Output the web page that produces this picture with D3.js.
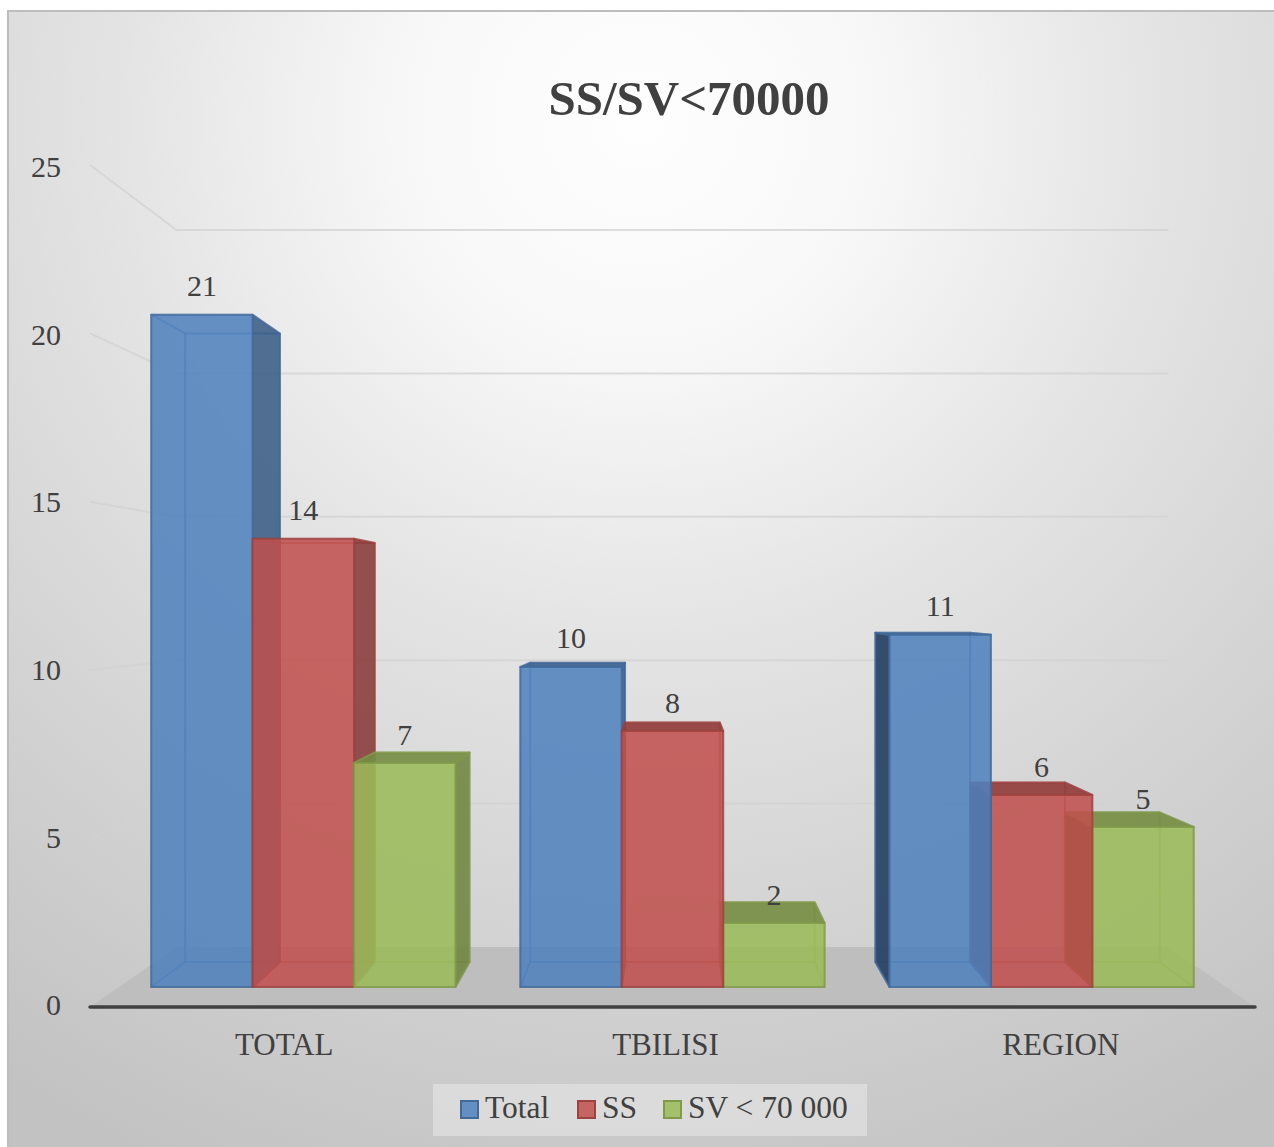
<!DOCTYPE html>
<html>
<head>
<meta charset="utf-8">
<style>
    body { margin: 0; background: #fff; }
    text { font-family: "Liberation Serif", serif; fill: #404040; }
</style>
<script src="https://cdn.jsdelivr.net/npm/d3@7"></script>
</head>
<body>
<div id="canvas-div"></div>
<script>
const categories = ["TOTAL", "TBILISI", "REGION"];
const seriesNames = ["Total", "SS", "SV < 70 000"];
const totalValues = [21, 10, 11];
const ssValues = [14, 8, 6];
const svValues = [7, 2, 5];
const yTicks = [0, 5, 10, 15, 20, 25];
const seriesColors = ["#4f81bd", "#c0504d", "#9bbb59"];

const width = 1274;
const height = 1147;

const svg = d3.select("#canvas-div")
    .append("svg")
    .attr("width", width)
    .attr("height", height)
    .style("display", "block");

// background panel
const defs = svg.append("defs");
const bgGrad = defs.append("radialGradient")
    .attr("id", "bg")
    .attr("gradientUnits", "userSpaceOnUse")
    .attr("cx", 640).attr("cy", 120).attr("r", 1150);
[[0, "#fefefe"], [0.2, "#f8f8f8"], [0.45, "#e4e4e4"], [0.7, "#d4d4d4"], [1, "#c2c2c2"]].forEach(s => {
    bgGrad.append("stop").attr("offset", s[0]).attr("stop-color", s[1]);
});

svg.append("rect")
    .attr("x", 8).attr("y", 11)
    .attr("width", width).attr("height", height)
    .attr("fill", "url(#bg)")
    .attr("stroke", "#bdbdbd")
    .attr("stroke-width", 2);

// scales, the front edge of the floor is the reference plane
const x0 = d3.scaleBand().domain(categories).range([90, 1255]);
const x1 = d3.scaleBand().domain(seriesNames)
    .range([0, x0.bandwidth()])
    .paddingInner(0)
    .paddingOuter(0.32);
const yFront = d3.scaleLinear().domain([0, 25]).range([1007, 165]);
const yLabels = d3.scaleLinear().domain([0, 25]).range([1005, 167]);
const depthScale = d3.scaleLinear().domain([0, 1]).range([1, 0.8515]);

const vanishX = 672;
const vanishY = 603;
const barFront = 0.333;
const barBack = 0.75;

function project(x, value, depth) {
    const s = depthScale(depth);
    return [vanishX + (x - vanishX) * s, vanishY + (yFront(value) - vanishY) * s];
}

function poly(points) {
    return "M" + points.map(p => p.join(",")).join("L") + "Z";
}

const [xMin, xMax] = x0.range();

// floor
svg.append("path")
    .attr("d", poly([project(xMin, 0, 0), project(xMax, 0, 0), project(xMax, 0, 1), project(xMin, 0, 1)]))
    .attr("fill", "#bebebe");

// gridlines, side wall then back wall
svg.append("g")
    .selectAll("path")
    .data(yTicks.filter(d => d > 0))
    .enter()
    .append("path")
    .attr("d", d => {
        const a = project(xMin, d, 0);
        const b = project(xMin, d, 1);
        const c = project(xMax, d, 1);
        return "M" + a + "L" + b + "L" + c;
    })
    .attr("fill", "none")
    .attr("stroke", "#d2d2d2")
    .attr("stroke-opacity", 0.75)
    .attr("stroke-width", 2);

// bars
const seriesValues = [totalValues, ssValues, svValues];
const bars = [];
categories.forEach((cat, i) => {
    seriesNames.forEach((name, j) => {
        const left = x0(cat) + x1(name);
        bars.push({ cat, name, value: seriesValues[j][i], color: seriesColors[j], left, right: left + x1.bandwidth() });
    });
});
// outer bars first, the ones nearest the middle sit on top
bars.sort((a, b) => Math.abs((b.left + b.right) / 2 - vanishX) - Math.abs((a.left + a.right) / 2 - vanishX));

const barGroups = svg.append("g")
    .selectAll("g")
    .data(bars)
    .enter()
    .append("g");

barGroups.each(function (d) {
    const g = d3.select(this);
    const fbl = project(d.left, 0, barFront), fbr = project(d.right, 0, barFront);
    const ftl = project(d.left, d.value, barFront), ftr = project(d.right, d.value, barFront);
    const bbl = project(d.left, 0, barBack), bbr = project(d.right, 0, barBack);
    const btl = project(d.left, d.value, barBack), btr = project(d.right, d.value, barBack);
    const edge = d3.color(d.color).darker(0.55);

    function face(points, fill, opacity, edgeOpacity) {
        g.append("path")
            .attr("d", poly(points))
            .attr("fill", fill)
            .attr("fill-opacity", opacity)
            .attr("stroke", edge)
            .attr("stroke-opacity", edgeOpacity)
            .attr("stroke-width", 2)
            .attr("stroke-linejoin", "round");
    }

    const leftShown = btl[0] < ftl[0];
    const rightShown = btr[0] > ftr[0];
    const topShown = btl[1] < ftl[1];

    // faces seen through the front
    face([bbl, bbr, btr, btl], d.color, 0.12, 0.35);
    face([fbl, fbr, bbr, bbl], d.color, 0.12, 0.35);
    if (!leftShown) face([fbl, bbl, btl, ftl], d.color, 0.12, 0.35);
    if (!rightShown) face([fbr, bbr, btr, ftr], d.color, 0.12, 0.35);
    if (!topShown) face([ftl, ftr, btr, btl], d.color, 0.12, 0.35);

    // faces seen directly
    if (leftShown) face([fbl, bbl, btl, ftl], d3.color(d.color).darker(1.7), 0.95, 0.75);
    if (rightShown) face([fbr, bbr, btr, ftr], d3.color(d.color).darker(1), 0.85, 0.75);
    if (topShown) face([ftl, ftr, btr, btl], d3.color(d.color).darker(0.8), 0.9, 0.75);

    face([fbl, fbr, ftr, ftl], d.color, 0.85, 0.75);
});

// data labels
svg.append("g")
    .selectAll("text")
    .data(bars)
    .enter()
    .append("text")
    .attr("text-anchor", "middle")
    .attr("font-size", 30)
    .attr("x", d => project((d.left + d.right) / 2, d.value, barFront)[0])
    .attr("y", d => project((d.left + d.right) / 2, d.value, barFront)[1] - 28)
    .attr("dy", ".32em")
    .text(d => d.value);

// axis line
svg.append("line")
    .attr("x1", xMin).attr("x2", xMax)
    .attr("y1", yFront(0)).attr("y2", yFront(0))
    .attr("stroke", "#404040")
    .attr("stroke-width", 3.5)
    .attr("stroke-linecap", "round");

const xAxis = d3.axisBottom(x0).tickSize(0).tickPadding(26);
const xAxisG = svg.append("g")
    .attr("transform", "translate(0," + yFront(0) + ")")
    .call(xAxis);
xAxisG.select(".domain").remove();
xAxisG.selectAll("text")
    .attr("font-size", 31)
    .style("font-family", "'Liberation Serif', serif")
    .attr("dx", d => d === "TBILISI" ? -7 : 0);

const yAxis = d3.axisLeft(yLabels).tickValues(yTicks).tickSize(0).tickPadding(0);
const yAxisG = svg.append("g")
    .attr("transform", "translate(61,0)")
    .call(yAxis);
yAxisG.select(".domain").remove();
yAxisG.selectAll("text")
    .attr("font-size", 30)
    .style("font-family", "'Liberation Serif', serif");

// title
svg.append("text")
    .attr("x", 689)
    .attr("y", 115)
    .attr("text-anchor", "middle")
    .attr("font-size", 49)
    .attr("font-weight", "bold")
    .text("SS/SV<70000");

// legend
svg.append("rect")
    .attr("x", 433).attr("y", 1084)
    .attr("width", 434).attr("height", 52)
    .attr("fill", "#e6e6e6")
    .attr("fill-opacity", 0.6);

const legendX = d3.scaleOrdinal().domain(seriesNames).range([460, 577, 663]);
const legendItems = svg.append("g")
    .selectAll("g")
    .data(seriesNames)
    .enter()
    .append("g")
    .attr("transform", d => "translate(" + legendX(d) + ",1100)");

legendItems.append("rect")
    .attr("x", 1).attr("y", 1)
    .attr("width", 17).attr("height", 17)
    .attr("fill", (d, i) => seriesColors[i])
    .attr("fill-opacity", 0.85)
    .attr("stroke", (d, i) => d3.color(seriesColors[i]).darker(0.55))
    .attr("stroke-width", 2);

legendItems.append("text")
    .attr("x", 25)
    .attr("y", 18)
    .attr("font-size", 31.5)
    .text(d => d);
</script>
</body>
</html>
